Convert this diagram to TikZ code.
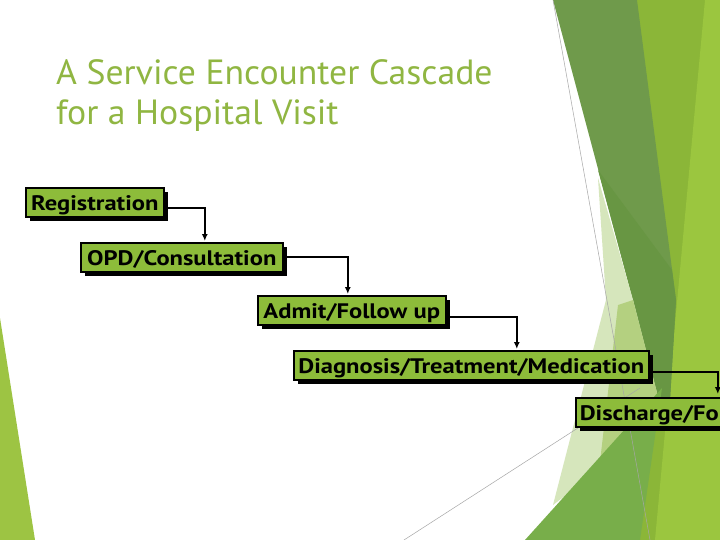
\documentclass[tikz,border=0pt]{standalone}
\usepackage{fontspec}
\newfontfamily\titlefont{PT Sans}[FakeStretch=1.02]
\newfontfamily\boxfont{PT Sans}[FakeStretch=1.17]
\usetikzlibrary{arrows.meta,shadows}
\definecolor{titlegreen}{RGB}{144,182,66}
\definecolor{boxgreen}{RGB}{141,188,58}
\definecolor{ygreen}{RGB}{139,182,56}
\definecolor{lgreen}{RGB}{155,198,63}
\definecolor{dgreen}{RGB}{111,154,75}
\definecolor{ddgreen}{RGB}{104,150,67}
\definecolor{pgreen}{RGB}{214,230,188}
\definecolor{plgreen}{RGB}{180,208,128}
\definecolor{mgreen}{RGB}{120,174,74}
\definecolor{leftgreen}{RGB}{157,196,67}
\tikzset{
  box/.style={draw=black, line width=1.6pt, fill=boxgreen, anchor=north west,
    font=\boxfont\bfseries\fontsize{21}{24}\selectfont, inner xsep=4pt, inner ysep=2pt,
    text height=21pt, text depth=4pt, minimum height=29pt,
    drop shadow={shadow xshift=4pt, shadow yshift=-4pt, fill=black, opacity=1}},
  conn/.style={draw=black, line width=1.7pt, -{Latex[length=7pt,width=6pt]}},
  thin/.style={draw=black!35, line width=0.5pt}
}
\begin{document}
\begin{tikzpicture}[x=1pt,y=-1pt]
\useasboundingbox (0,0) rectangle (720,540);
\clip (0,0) rectangle (720,540);
\fill[white] (0,0) rectangle (720,540);
% background facets
\fill[ygreen] (637,0) -- (720,0) -- (720,540) -- (640,540) -- cycle;
\fill[lgreen] (705,0) -- (720,0) -- (720,540) -- (655,540) -- cycle;
\fill[dgreen] (553,0) -- (637,0) -- (676,300) -- (670,400) -- (664,420) -- (633,300) -- cycle;
\fill[ddgreen] (598,170) -- (672,270) -- (676,300) -- (670,400) -- (664,420) -- (633,300) -- cycle;
\fill[pgreen] (598,178) -- (633,300) -- (664,420) -- (553,505) -- (606,300) -- cycle;
\fill[plgreen] (618,305) -- (633,300) -- (664,420) -- (600,462) -- cycle;
\fill[mgreen] (525,540) -- (662,388) -- (640,540) -- cycle;
\fill[leftgreen] (0,318) -- (35,540) -- (0,540) -- cycle;
\draw[thin] (553,0) -- (650,540);
\draw[thin] (404,540) -- (640,388);
% title
\node[anchor=base west, text=titlegreen, font=\titlefont\fontsize{35}{40}\selectfont, inner sep=0pt] (t1) at (56,85) {A Service Encounter Cascade};
\node[anchor=base west, text=titlegreen, font=\titlefont\fontsize{35}{40}\selectfont, inner sep=0pt] (t2) at (56,125) {for a Hospital Visit};
% boxes
\node[box, minimum width=138pt] (reg) at (25,187) {Registration};
\node[box, minimum width=202pt] (opd) at (80,242) {OPD/Consultation};
\node[box, minimum width=188pt] (adm) at (257,295) {Admit/Follow up};
\node[box, minimum width=355pt] (dia) at (293,350) {Diagnosis/Treatment/Medication};
\node[box, text width=200pt, align=left] (dis) at (575,397) {Discharge/Fo};
% connectors
\draw[conn] ([yshift=-6pt]reg.east) -| ([xshift=23pt,yshift=1pt]opd.north);
\draw[conn] (opd.east) -| ([xshift=-4pt,yshift=1pt]adm.north);
\draw[conn] ([yshift=-7pt]adm.east) -| ([xshift=45.5pt,yshift=1pt]dia.north);
\draw[conn] ([yshift=-7pt]dia.east) -| ([xshift=38pt,yshift=3pt]dis.north);
\end{tikzpicture}
\end{document}
